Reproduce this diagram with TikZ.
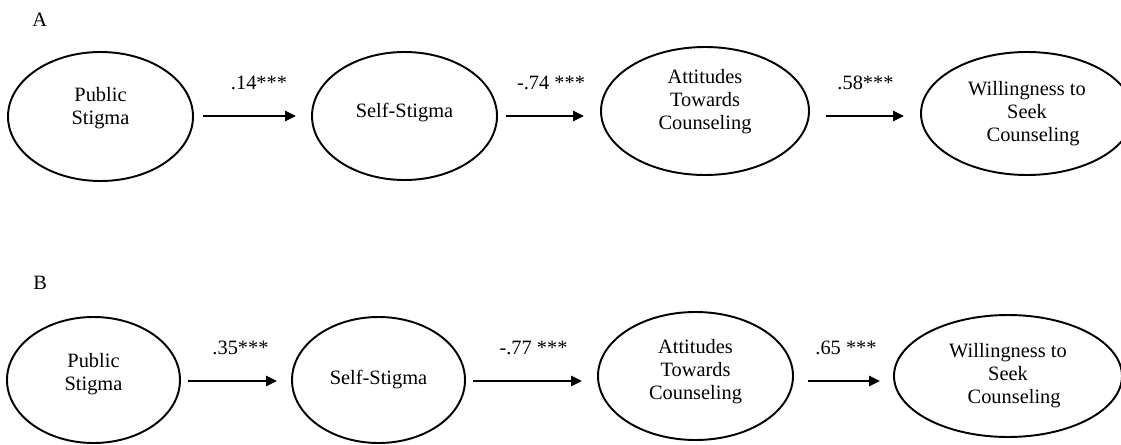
\documentclass[tikz,border=0pt]{standalone}
\usepackage{fontspec}
\setmainfont{Liberation Serif}
\usepackage{tikz}
\usetikzlibrary{arrows.meta,shapes.geometric,calc}
\newcommand{\labfont}{\fontsize{11.6}{13.1}\selectfont}
\tikzset{latent/.style={draw,ellipse,line width=1.1pt,align=center,inner sep=0pt,font=\labfont},
  link/.style={-{Triangle[length=0.22cm,width=0.2cm]},line width=1.6pt},
  coef/.style={anchor=base,inner sep=0pt,font=\labfont},
  panel/.style={anchor=base west,inner sep=0pt,font=\labfont}}

\begin{document}
\begin{tikzpicture}
  \useasboundingbox (0,0) rectangle (22.42,8.88);
  \node[panel] (pA) at (0.64,8.36) {A};
  \node[latent,minimum width=3.70cm,minimum height=2.58cm,text depth=0.41cm] (ps) at (2.01,6.55) {Public\\Stigma};
  \node[latent,minimum width=3.70cm,minimum height=2.56cm,text depth=0.23cm] (ss) at (8.09,6.56) {Self-Stigma};
  \node[latent,minimum width=4.16cm,minimum height=2.56cm,text depth=0.45cm] (att) at (14.10,6.66) {Attitudes\\Towards\\Counseling};
  \node[latent,minimum width=4.24cm,minimum height=2.46cm] (will) at (20.54,6.61) {Willingness to\\Seek\\\hspace*{0.6em}Counseling};
  \coordinate (rowA) at (0,6.56);
  \draw[link] ($(ps.east |- rowA)+(0.18,0)$) -- ($(ss.west |- rowA)-(0.30,0)$);
  \draw[link] ($(ss.east |- rowA)+(0.16,0)$) -- ($(att.west |- rowA)-(0.32,0)$);
  \draw[link] ($(att.east |- rowA)+(0.32,0)$) -- ($(will.west |- rowA)-(0.32,0)$);
  \node[coef] (cA1) at (5.18,7.10) {.14***};
  \node[coef] (cA2) at (11.02,7.10) {-.74 ***};
  \node[coef] (cA3) at (17.31,7.10) {.58***};

  \node[panel] (pB) at (0.66,3.10) {B};
  \node[latent,minimum width=3.46cm,minimum height=2.52cm,text depth=0.33cm] (ps2) at (1.87,1.28) {Public\\Stigma};
  \node[latent,minimum width=3.46cm,minimum height=2.52cm] (ss2) at (7.57,1.28) {Self-Stigma};
  \node[latent,minimum width=3.90cm,minimum height=2.56cm,text depth=0.25cm] (att2) at (13.91,1.36) {Attitudes\\Towards\\Counseling};
  \node[latent,minimum width=4.56cm,minimum height=2.44cm] (will2) at (20.16,1.36) {Willingness to\\Seek\\\hspace*{0.6em}Counseling};
  \coordinate (rowB) at (0,1.26);
  \draw[link] ($(ps2.east |- rowB)+(0.15,0)$) -- ($(ss2.west |- rowB)-(0.28,0)$);
  \draw[link] ($(ss2.east |- rowB)+(0.14,0)$) -- ($(att2.west |- rowB)-(0.30,0)$);
  \draw[link] ($(att2.east |- rowB)+(0.28,0)$) -- ($(will2.west |- rowB)-(0.26,0)$);
  \node[coef] (cB1) at (4.81,1.80) {.35***};
  \node[coef] (cB2) at (10.67,1.80) {-.77 ***};
  \node[coef] (cB3) at (16.92,1.80) {.65 ***};
\end{tikzpicture}
\end{document}
